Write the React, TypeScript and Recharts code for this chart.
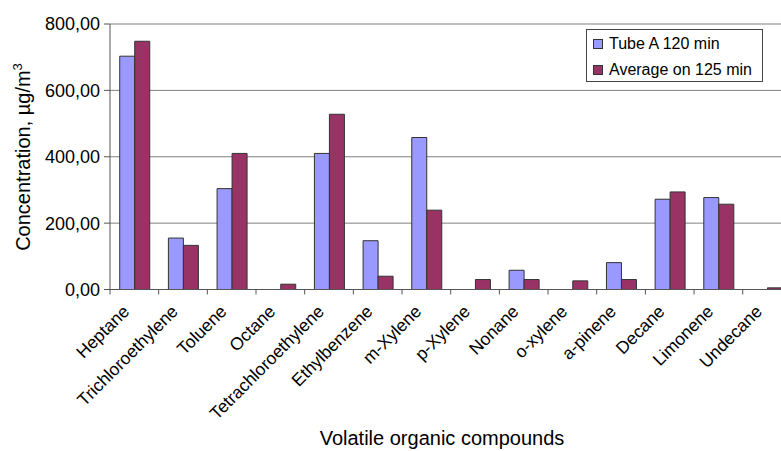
import React from 'react';
import { BarChart, Bar, XAxis, YAxis, CartesianGrid, Label } from 'recharts';

const compounds = [
  'Heptane', 'Trichloroethylene', 'Toluene', 'Octane', 'Tetrachloroethylene',
  'Ethylbenzene', 'm-Xylene', 'p-Xylene', 'Nonane', 'o-xylene',
  'a-pinene', 'Decane', 'Limonene', 'Undecane',
];
const tubeA120 = [703, 155, 304, 0, 410, 147, 458, 0, 58, 0, 81, 272, 277, 0];
const average125 = [748, 133, 410, 16, 528, 40, 239, 30, 30, 26, 30, 294, 257, 5];
const seriesNames = ['Tube A 120 min', 'Average on 125 min'];
const seriesColors = ['#9999FF', '#993366'];
const yTicks = [0, 200, 400, 600, 800];

const data = compounds.map((name, i) => ({
  name,
  tubeA: tubeA120[i],
  average: average125[i],
}));

const FONT = "'Liberation Sans', Arial, sans-serif";
const PLOT_LEFT = 110;
const PLOT_RIGHT = 791.4;
const PLOT_TOP = 24;
const PLOT_BOTTOM = 289.5;
const BAND = (PLOT_RIGHT - PLOT_LEFT) / compounds.length;
const AXIS_COLOR = '#555';

const formatTick = (v: number) => v.toFixed(2).replace('.', ',');

// category label rotated 45deg, plus a tick mark on the left band edge
const CategoryTick = ({ x, payload }: any) => {
  const edge = x - BAND / 2;
  const tx = x - 4;
  const ty = PLOT_BOTTOM + 23;
  return (
    <g>
      <line x1={edge} y1={PLOT_BOTTOM} x2={edge} y2={PLOT_BOTTOM + 5} stroke={AXIS_COLOR} />
      <text
        x={tx}
        y={ty}
        textAnchor="end"
        transform={`rotate(-45 ${tx} ${ty})`}
        fontSize={17.5}
        fontFamily={FONT}
        fill="#000"
      >
        {payload.value}
      </text>
    </g>
  );
};

const renderYLabel = () => (
  <text
    x={29.5}
    y={157}
    textAnchor="middle"
    transform="rotate(-90 29.5 157)"
    fontSize={20}
    fontFamily={FONT}
    fill="#000"
  >
    Concentration, µg/m<tspan dy={-8} fontSize={13}>3</tspan>
  </text>
);

const renderXLabel = () => (
  <text x={442} y={445} textAnchor="middle" fontSize={20} fontFamily={FONT} fill="#000">
    Volatile organic compounds
  </text>
);

const App = () => {
  return (
    <div style={{ position: 'absolute', left: 0, top: 0, width: 781, height: 451, overflow: 'hidden', background: '#fff' }}>
      <BarChart
        width={800}
        height={451}
        data={data}
        margin={{ top: PLOT_TOP, right: 800 - PLOT_RIGHT, left: 0, bottom: 0 }}
        barCategoryGap="20%"
        barGap={0}
      >
        <CartesianGrid vertical={false} stroke="#808080" />
        <XAxis
          dataKey="name"
          height={451 - PLOT_BOTTOM}
          interval={0}
          tick={<CategoryTick />}
          tickLine={false}
          axisLine={{ stroke: AXIS_COLOR }}
        >
          <Label content={renderXLabel} />
        </XAxis>
        <YAxis
          width={PLOT_LEFT}
          domain={[0, 800]}
          ticks={yTicks}
          tickFormatter={formatTick}
          tickSize={6}
          tickMargin={4}
          tick={{ fontSize: 18, fontFamily: FONT, fill: '#000' }}
          tickLine={{ stroke: AXIS_COLOR }}
          axisLine={{ stroke: AXIS_COLOR }}
        >
          <Label content={renderYLabel} />
        </YAxis>
        <Bar dataKey="tubeA" name={seriesNames[0]} fill={seriesColors[0]} stroke="#333" strokeWidth={1} isAnimationActive={false} />
        <Bar dataKey="average" name={seriesNames[1]} fill={seriesColors[1]} stroke="#333" strokeWidth={1} isAnimationActive={false} />
      </BarChart>
      <div
        style={{
          position: 'absolute',
          left: 586,
          top: 29,
          width: 175,
          height: 51,
          border: '1px solid #444',
          fontFamily: FONT,
          fontSize: 16,
          color: '#000',
          background: '#fff',
        }}
      >
        {seriesNames.map((name, i) => (
          <div key={name} style={{ position: 'absolute', left: 6, top: 5 + i * 26, display: 'flex', alignItems: 'center', whiteSpace: 'nowrap' }}>
            <span style={{ display: 'inline-block', width: 8, height: 8, background: seriesColors[i], border: '1px solid #333', marginRight: 6 }} />
            {name}
          </div>
        ))}
      </div>
    </div>
  );
};

export default App;
